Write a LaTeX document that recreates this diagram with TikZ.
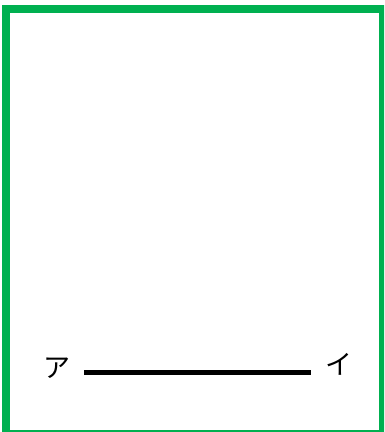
\documentclass[tikz,border=0pt]{standalone}
\usepackage{fontspec}
\newfontfamily\cjk{Noto Sans CJK JP}
\definecolor{framegreen}{RGB}{0,176,80}
\tikzset{
  frameline/.style={draw=framegreen, line width=8pt},
  seg/.style={draw=black, line width=5pt},
  kana/.style={font=\cjk\fontsize{27}{27}\selectfont, inner sep=0pt, text=black}
}
\begin{document}
\begin{tikzpicture}[x=1pt,y=-1pt]
\useasboundingbox (0,0) rectangle (384,432);
\clip (0,0) rectangle (384,432);
\fill[white] (0,0) rectangle (384,432);
\draw[frameline] (6,8.5) rectangle (383,434);
\node[kana] (a) at (57,368) {ア};
\node[kana] (i) at (338.5,364.5) {イ};
\coordinate (s) at (84,372);
\coordinate (e) at (311,372);
\draw[seg] (s) -- (e);
\end{tikzpicture}
\end{document}
